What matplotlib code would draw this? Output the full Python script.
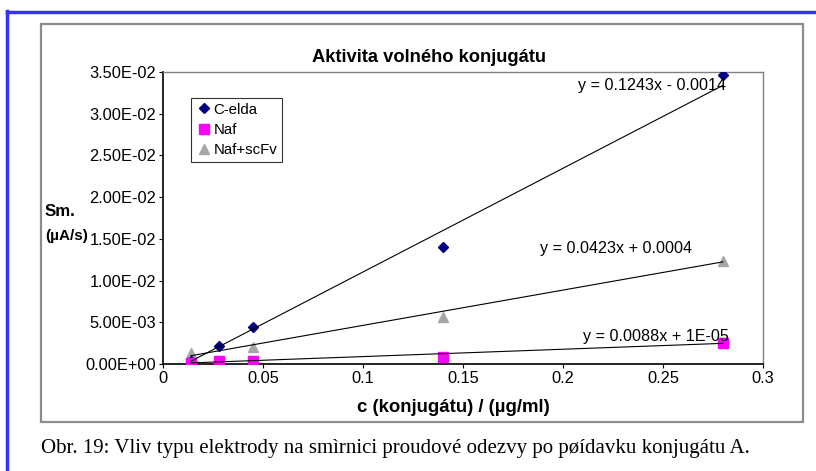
import matplotlib.pyplot as plt
from matplotlib.lines import Line2D
from matplotlib.patches import Rectangle
import numpy as np

# concentrations (ug/ml)
conc = [0.014, 0.028, 0.045, 0.14, 0.28]
conc_scfv = [0.014, 0.045, 0.14, 0.28]

# slopes
celda = [0.0003, 0.0022, 0.0044, 0.0140, 0.0346]
naf = [0.0001, 0.0003, 0.0004, 0.0008, 0.0025]
naf_scfv = [0.0013, 0.0020, 0.0056, 0.0123]

# trendline coefficients (slope, intercept) and their labels
fits = {
    'C-elda': (0.1243, -0.0014),
    'Naf': (0.0088, 1e-05),
    'Naf+scFv': (0.0423, 0.0004),
}
fit_labels = ['y = 0.1243x - 0.0014', 'y = 0.0423x + 0.0004', 'y = 0.0088x + 1E-05']

x_ticks = [0, 0.05, 0.1, 0.15, 0.2, 0.25, 0.3]
x_tick_labels = ['0', '0.05', '0.1', '0.15', '0.2', '0.25', '0.3']
y_ticks = [0, 0.005, 0.01, 0.015, 0.02, 0.025, 0.03, 0.035]
y_tick_labels = ['0.00E+00', '5.00E-03', '1.00E-02', '1.50E-02',
                 '2.00E-02', '2.50E-02', '3.00E-02', '3.50E-02']

plt.rcParams['font.family'] = ['Liberation Sans', 'DejaVu Sans']

W, H = 816, 471
fig = plt.figure(figsize=(W / 100, H / 100), dpi=100)

# blue page border (left and top)
fig.add_artist(Line2D([7 / W, 7 / W], [0, 1 - 11 / H], transform=fig.transFigure,
                      color='#3333ff', lw=2.5))
fig.add_artist(Line2D([7 / W, 1], [1 - 12 / H, 1 - 12 / H], transform=fig.transFigure,
                      color='#3333ff', lw=2.5))

# chart area frame
fig.add_artist(Rectangle((41 / W, 1 - 422 / H), (803 - 41) / W, (422 - 24) / H,
                         transform=fig.transFigure, fill=False, edgecolor='#8c8c8c', lw=1.6))

ax = fig.add_axes([163 / W, 1 - 364 / H, 600 / W, 292 / H])

ax.plot(conc, celda, linestyle='none', marker='D', color='#000080', ms=5, label='C-elda', zorder=3)
ax.plot(conc, naf, linestyle='none', marker='s', color='#ff00ff', ms=7, label='Naf', zorder=3)
ax.plot(conc_scfv, naf_scfv, linestyle='none', marker='^', color='#a6a6a6', ms=6.5,
        label='Naf+scFv', zorder=2)

xs = np.array([conc[0], conc[-1]])
for name, (k, q) in fits.items():
    ax.plot(xs, k * xs + q, color='black', lw=0.8, zorder=4)

ax.set_xlim(0, 0.3)
ax.set_ylim(0, 0.035)
ax.set_xticks(x_ticks)
ax.set_xticklabels(x_tick_labels, fontsize=11.8)
ax.set_yticks(y_ticks)
ax.set_yticklabels(y_tick_labels, fontsize=11.8)
ax.tick_params(length=3, width=0.8, pad=2)

for s in ['top', 'right']:
    ax.spines[s].set_color('#808080')
    ax.spines[s].set_linewidth(1.0)
for s in ['left', 'bottom']:
    ax.spines[s].set_linewidth(1.2)

ax.text(0.2815, 0.0325, fit_labels[0], fontsize=11.6, ha='right', va='bottom')
ax.text(0.2265, 0.0129, fit_labels[1], fontsize=11.6, ha='center', va='bottom')
ax.text(0.2465, 0.0024, fit_labels[2], fontsize=11.6, ha='center', va='bottom')

leg = ax.legend(loc='upper left', bbox_to_anchor=(28 / 600, (364 - 98) / 292), fontsize=10.8,
                frameon=True, fancybox=False, edgecolor='black', borderpad=0.3,
                handletextpad=0.1, handlelength=1.1, labelspacing=0.42, borderaxespad=0)
leg.get_frame().set_linewidth(0.8)

fig.text(429 / W, 1 - 57 / H, 'Aktivita volného konjugátu', fontsize=13.2, fontweight='bold',
         ha='center', va='center')
fig.text(453 / W, 1 - 407 / H, 'c (konjugátu) / (µg/ml)', fontsize=13.4, fontweight='bold',
         ha='center', va='center')
fig.text(45 / W, 1 - 212 / H, 'Sm.', fontsize=12.2, fontweight='bold', ha='left', va='center')
fig.text(45 / W, 1 - 236 / H, '(µA/s)', fontsize=11, fontweight='bold', ha='left', va='center')

fig.text(41 / W, 1 - 448 / H,
         'Obr. 19: Vliv typu elektrody na smìrnici proudové odezvy po pøídavku konjugátu A.',
         fontsize=15, family=['Liberation Serif', 'DejaVu Serif'], ha='left', va='center')

fig.savefig('out.png', dpi=100)
